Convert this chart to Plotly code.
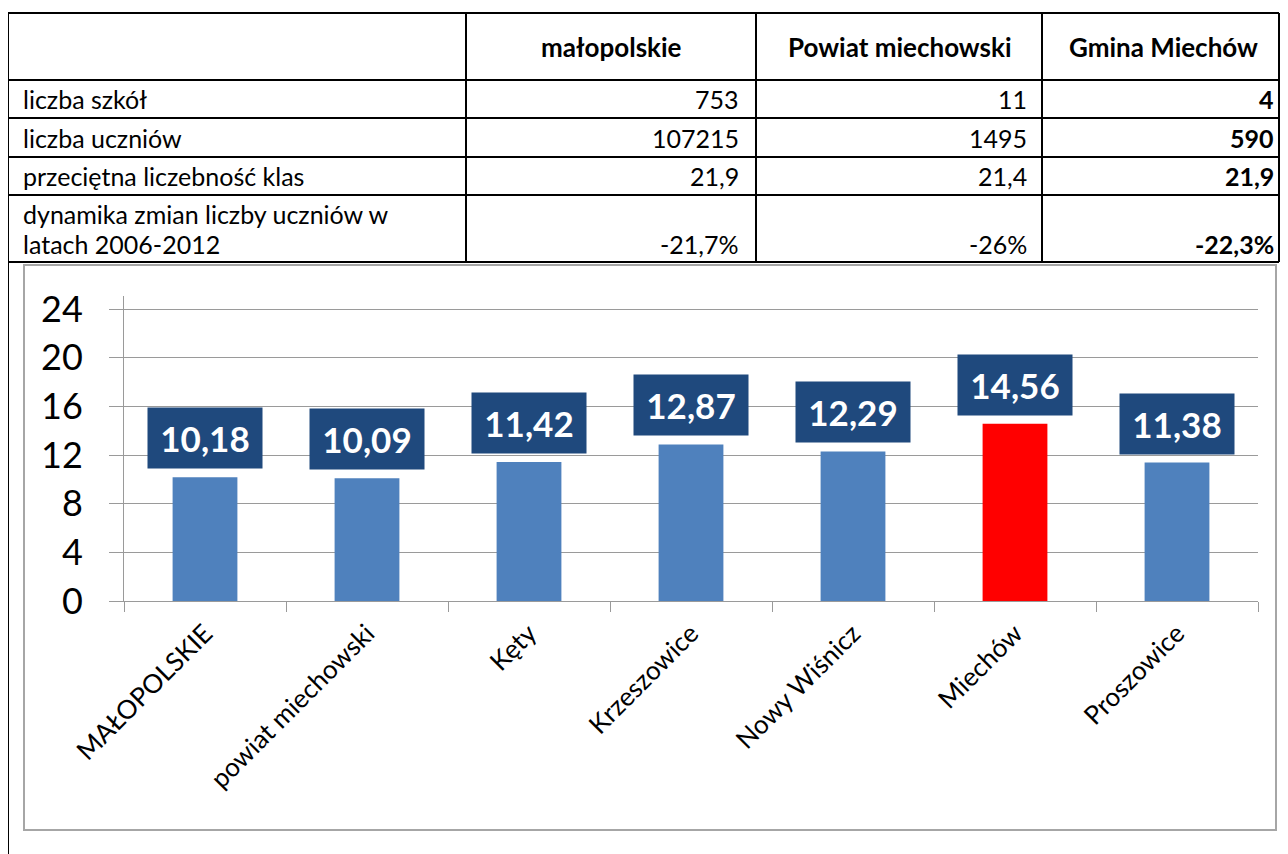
import plotly.graph_objects as go

# --- dane tabeli ---
kolumny = ['małopolskie', 'Powiat miechowski', 'Gmina Miechów']
wiersze = ['liczba szkół', 'liczba uczniów', 'przeciętna liczebność klas',
           'dynamika zmian liczby uczniów w', 'latach 2006-2012']
malopolskie = ['753', '107215', '21,9', '-21,7%']
powiat = ['11', '1495', '21,4', '-26%']
gmina = ['4', '590', '21,9', '-22,3%']

# --- dane wykresu ---
kategorie = ['MAŁOPOLSKIE', 'powiat miechowski', 'Kęty', 'Krzeszowice',
             'Nowy Wiśnicz', 'Miechów', 'Proszowice']
wartosci = [10.18, 10.09, 11.42, 12.87, 12.29, 14.56, 11.38]
wyrozniona = 'Miechów'
y_ticki = [0, 4, 8, 12, 16, 20, 24]

# strona ma margines 8 px, więc figura jest mniejsza i przesunięta
W, H = 1272, 846
OFF = 8
PRAWA = 1279  # ostatni widoczny piksel z prawej
FONT = 'Lato'
SZARY = '#9A9A9A'


def fx(x):
    return (min(x, PRAWA) - OFF) / W


def fy(y):
    return 1 - (y - OFF) / H


# geometria tabeli (piksele zrzutu)
kol_x = [8, 466, 756, 1042, 1285]
wier_y = [13, 80, 118, 157, 195, 262]

fig = go.Figure()

kolory = ['#FF0000' if k == wyrozniona else '#4F81BD' for k in kategorie]
fig.add_trace(go.Bar(
    x=kategorie,
    y=wartosci,
    marker=dict(color=kolory, line=dict(width=0)),
    hoverinfo='x+y'
))

shapes = []
# linie tabeli
for y in wier_y:
    shapes.append(dict(type='line', xref='paper', yref='paper',
                       x0=fx(kol_x[0]), x1=fx(kol_x[-1]), y0=fy(y), y1=fy(y),
                       line=dict(color='black', width=2)))
for x in kol_x:
    shapes.append(dict(type='line', xref='paper', yref='paper',
                       x0=fx(x), x1=fx(x), y0=fy(wier_y[0]), y1=fy(wier_y[-1]),
                       line=dict(color='black', width=2)))
# lewa krawędź komórki z wykresem
shapes.append(dict(type='line', xref='paper', yref='paper',
                   x0=fx(8), x1=fx(8), y0=fy(262), y1=fy(854),
                   line=dict(color='black', width=2)))
# ramka wykresu
shapes.append(dict(type='rect', xref='paper', yref='paper',
                   x0=fx(24), x1=fx(1276), y0=fy(265), y1=fy(830),
                   line=dict(color='#A6A6A6', width=2)))

annotations = []
# nagłówki
for i, naglowek in enumerate(kolumny):
    srodek = (kol_x[i + 1] + kol_x[i + 2]) / 2
    annotations.append(dict(
        x=fx(srodek), y=fy(47),
        xref='paper', yref='paper', text='<b>' + naglowek + '</b>',
        showarrow=False, xanchor='center', yanchor='middle',
        font=dict(family=FONT, size=26, color='black')
    ))

# etykiety wierszy
y_etykiet = [99, 138, 176, 214, 244]
for etykieta, y in zip(wiersze, y_etykiet):
    annotations.append(dict(
        x=fx(21), y=fy(y), xref='paper', yref='paper', text=etykieta,
        showarrow=False, xanchor='left', yanchor='middle', align='left',
        font=dict(family=FONT, size=25, color='black')
    ))

# wartości
y_wartosci = [99, 138, 176, 244]
prawe = [741, 1029, 1276]
for k, kol in enumerate([malopolskie, powiat, gmina]):
    for j, tekst in enumerate(kol):
        if k == 2:
            tekst = '<b>' + tekst + '</b>'
        annotations.append(dict(
            x=fx(prawe[k]), y=fy(y_wartosci[j]), xref='paper', yref='paper',
            text=tekst, showarrow=False, xanchor='right', yanchor='middle',
            font=dict(family=FONT, size=25, color='black')
        ))

# etykiety danych
for k, v in zip(kategorie, wartosci):
    annotations.append(dict(
        x=k, y=v, xref='x', yref='y', text='<b>' + f'{v:.2f}'.replace('.', ',') + '</b>',
        showarrow=False, xanchor='center', yanchor='bottom', yshift=8,
        width=110, height=56, borderpad=2, bgcolor='#1F497D',
        font=dict(family=FONT, size=35, color='white')
    ))

y_gora = 24 * (601 - 296) / (601 - 309)

fig.update_layout(
    width=W, height=H,
    margin=dict(l=0, r=0, t=0, b=0),
    paper_bgcolor='white', plot_bgcolor='white',
    showlegend=False,
    bargap=0.6,
    shapes=shapes,
    annotations=annotations,
    xaxis=dict(
        domain=[fx(124), fx(1258)],
        type='category', range=[-0.5, 6.5],
        showline=True, linecolor=SZARY, linewidth=1,
        ticks='outside', tickson='boundaries', ticklen=10, tickcolor=SZARY,
        tickangle=-45, showgrid=False, automargin=False, ticklabelstandoff=6,
        tickfont=dict(family=FONT, size=26, color='black')
    ),
    yaxis=dict(
        domain=[fy(601), fy(296)],
        range=[0, y_gora],
        tickvals=y_ticki,
        showline=True, linecolor=SZARY, linewidth=1,
        ticks='outside', ticklen=14, tickcolor=SZARY,
        showgrid=True, gridcolor=SZARY, gridwidth=1,
        zeroline=False, automargin=False, ticklabelstandoff=19,
        tickfont=dict(family=FONT, size=36, color='black')
    )
)

fig.write_html('out.html')
